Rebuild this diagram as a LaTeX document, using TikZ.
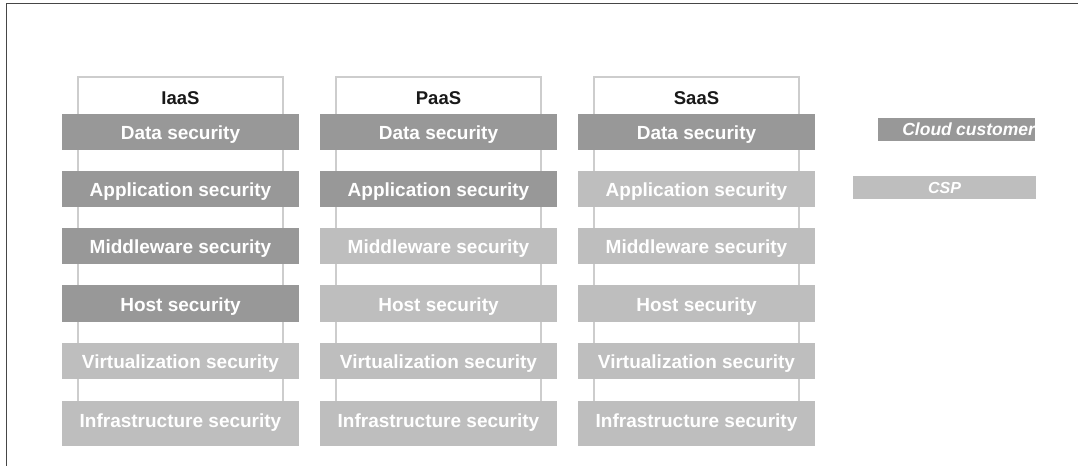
\documentclass[tikz,border=0pt]{standalone}
\usepackage{fontspec}
\setmainfont{Liberation Sans}
\definecolor{owner}{RGB}{152,152,152}
\definecolor{provider}{RGB}{190,190,190}
\definecolor{boxline}{RGB}{205,205,205}
\definecolor{frameline}{RGB}{70,70,70}
\definecolor{headtext}{RGB}{25,25,25}
\tikzset{
  colbox/.style={draw=boxline, line width=1.3pt, fill=white, minimum width=205pt,
    minimum height=363pt, inner sep=0pt, outer sep=0pt},
  headlabel/.style={text=headtext, font=\fontsize{18.5}{20}\selectfont\bfseries,
    inner sep=0pt, text height=13.5pt, text depth=0pt},
  layer/.style={minimum width=237pt, minimum height=36pt, inner sep=0pt, outer sep=0pt,
    text=white, font=\fontsize{19}{22}\selectfont\bfseries, text height=15pt, text depth=0pt},
  cust/.style={layer, fill=owner},
  csp/.style={layer, fill=provider},
  tall/.style={minimum height=45pt, text depth=7pt},
  legendbar/.style={minimum height=23pt, inner sep=0pt, outer sep=0pt, text=white,
    font=\fontsize{17.5}{19}\selectfont\bfseries\itshape, text height=12.5pt, text depth=0pt}
}
\begin{document}
\begin{tikzpicture}[x=1pt, y=-1pt]
\useasboundingbox (0,0) rectangle (1078,466);
% page frame: top and left edges only
\coordinate (ftl) at (6.5,3.5);
\coordinate (ftr) at (1078,3.5);
\coordinate (fbl) at (6.5,466);
\draw[frameline, line width=1.8pt] (ftr) -- (ftl) -- (fbl);

% ---------- IaaS ----------
\node[colbox] (iaas) at (180.5,258.5) {};
\node[headlabel] (iaasT) at (180.5,97.5) {IaaS};
\node[cust] (i1) at (180.5,132) {Data security};
\node[cust] (i2) at (180.5,189) {Application security};
\node[cust] (i3) at (180.5,246) {Middleware security};
\node[cust, minimum height=37pt] (i4) at (180.5,303.5) {Host security};
\node[csp] (i5) at (180.5,361) {Virtualization security};
\node[csp, tall] (i6) at (180.5,423.5) {Infrastructure security};

% ---------- PaaS ----------
\node[colbox] (paas) at (438.5,258.5) {};
\node[headlabel] (paasT) at (438.5,97.5) {PaaS};
\node[cust] (p1) at (438.5,132) {Data security};
\node[cust] (p2) at (438.5,189) {Application security};
\node[csp] (p3) at (438.5,246) {Middleware security};
\node[csp, minimum height=37pt] (p4) at (438.5,303.5) {Host security};
\node[csp] (p5) at (438.5,361) {Virtualization security};
\node[csp, tall] (p6) at (438.5,423.5) {Infrastructure security};

% ---------- SaaS ----------
\node[colbox] (saas) at (696.5,258.5) {};
\node[headlabel] (saasT) at (696.5,97.5) {SaaS};
\node[cust] (s1) at (696.5,132) {Data security};
\node[csp] (s2) at (696.5,189) {Application security};
\node[csp] (s3) at (696.5,246) {Middleware security};
\node[csp, minimum height=37pt] (s4) at (696.5,303.5) {Host security};
\node[csp] (s5) at (696.5,361) {Virtualization security};
\node[csp, tall] (s6) at (696.5,423.5) {Infrastructure security};

% ---------- legend ----------
\node[legendbar, fill=owner, text width=157pt, align=right] (lgCust) at (956.5,129.5) {Cloud\hspace{-1.5pt} customer};
\node[legendbar, fill=provider, minimum width=183pt, font=\fontsize{16}{18}\selectfont\bfseries\itshape] (lgCsp) at (944.5,187.5) {CSP};
\end{tikzpicture}
\end{document}
